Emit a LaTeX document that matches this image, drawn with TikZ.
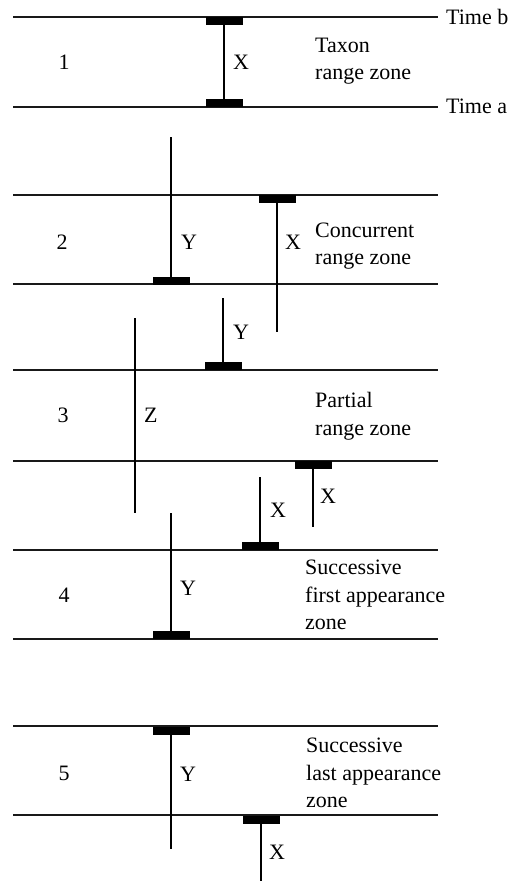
\documentclass[tikz,border=0pt]{standalone}
\usepackage{fontspec}
\setmainfont{Liberation Serif}
\begin{document}
\begin{tikzpicture}[x=1pt,y=-1pt,
  every node/.style={inner sep=0pt, font=\fontsize{22}{27.5}\selectfont, text=black},
  horizonline/.style={line width=1.3pt, black!90},
  rangebar/.style={line width=2.7pt, black},
  endbar/.style={fill=black, minimum width=37pt, minimum height=8pt, inner sep=0pt, outer sep=0pt},
  zonetext/.style={anchor=west, align=left},
  taxonlabel/.style={anchor=west}]
\useasboundingbox (0,0) rectangle (512,881);

% ---- time horizons ----
\foreach \n/\y in {a/17,b/107,c/195,d/284,e/370,f/461,g/550,h/639,i/726,j/815}{
  \coordinate (h\n-l) at (13,\y);
  \coordinate (h\n-r) at (438,\y);
  \draw[horizonline] (h\n-l) -- (h\n-r);
}
\node[anchor=base west] (timeb) at (446,24) {Time b};
\node[anchor=base west] (timea) at (446,113) {Time a};

% ---- zone numbers ----
\node (n1) at (64,62) {1};
\node (n2) at (62,242) {2};
\node (n3) at (63,415) {3};
\node (n4) at (64,595) {4};
\node (n5) at (64,773) {5};

% ---- zone names ----
\node[zonetext] (z1) at (315,61) {Taxon\\range zone};
\node[zonetext] (z2) at (315,246) {Concurrent\\range zone};
\node[zonetext] (z3) at (315,416) {Partial\\range zone};
\node[zonetext] (z4) at (305,595) {Successive\\first appearance\\zone};
\node[zonetext] (z5) at (306,773) {Successive\\last appearance\\zone};

% ---- zone 1: taxon X ----
\node[endbar] (x1t) at (224,21) {};
\node[endbar] (x1b) at (224,103) {};
\draw[rangebar] (x1t) -- (x1b);
\node[taxonlabel] (lx1) at (233,62) {X};

% ---- zone 2: Y and X overlapping ----
\coordinate (y2t) at (171,137);
\node[endbar] (y2b) at (171,280.5) {};
\draw[rangebar] (y2t) -- (y2b);
\node[taxonlabel] (ly2) at (181,242) {Y};

\node[endbar] (x2t) at (277,199) {};
\coordinate (x2b) at (277,332);
\draw[rangebar] (x2t) -- (x2b);
\node[taxonlabel] (lx2) at (285,242) {X};

% ---- zone 3: partial ranges ----
\coordinate (y3t) at (223,298);
\node[endbar] (y3b) at (223,366) {};
\draw[rangebar] (y3t) -- (y3b);
\node[taxonlabel] (ly3) at (233,332) {Y};

\coordinate (z3t) at (135,318);
\coordinate (z3b) at (135,513);
\draw[rangebar] (z3t) -- (z3b);
\node[taxonlabel] (lz3) at (144,415) {Z};

\node[endbar] (x3t) at (313,465) {};
\coordinate (x3b) at (313,527);
\draw[rangebar] (x3t) -- (x3b);
\node[taxonlabel] (lx3) at (320,496) {X};

% ---- zone 4: successive first appearances ----
\coordinate (x4t) at (260,477);
\node[endbar] (x4b) at (260,546) {};
\draw[rangebar] (x4t) -- (x4b);
\node[taxonlabel] (lx4) at (270,510) {X};

\coordinate (y4t) at (171,513);
\node[endbar] (y4b) at (171,635) {};
\draw[rangebar] (y4t) -- (y4b);
\node[taxonlabel] (ly4) at (180,588) {Y};

% ---- zone 5: successive last appearances ----
\node[endbar] (y5t) at (171,730.5) {};
\coordinate (y5b) at (171,849);
\draw[rangebar] (y5t) -- (y5b);
\node[taxonlabel] (ly5) at (180,774) {Y};

\node[endbar] (x5t) at (261,819.5) {};
\coordinate (x5b) at (261,881);
\draw[rangebar] (x5t) -- (x5b);
\node[taxonlabel] (lx5) at (269,852) {X};
\end{tikzpicture}
\end{document}
